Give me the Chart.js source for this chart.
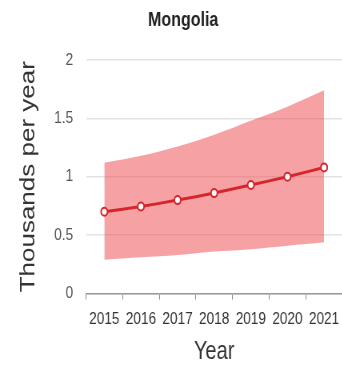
<!DOCTYPE html>
<html>
<head>
<meta charset="utf-8">
<script src="https://cdn.jsdelivr.net/npm/chart.js@4/dist/chart.umd.min.js"></script>
<style>
  html, body { margin: 0; padding: 0; background: #fff; }
  #wrap { width: 342px; height: 365px; overflow: hidden; }
  /* the chart is drawn wide and squeezed sideways to get the narrow lettering */
  #chart { transform: scaleX(0.8); transform-origin: 0 0; }
</style>
</head>
<body>
<div id="wrap"><canvas id="chart" width="428" height="365"></canvas></div>
<script>
// Mongolia, thousands per year, with uncertainty band
const years = ['2015', '2016', '2017', '2018', '2019', '2020', '2021'];
const estimate = [0.70, 0.745, 0.80, 0.86, 0.93, 1.00, 1.08];
const upperBound = [1.12, 1.18, 1.26, 1.36, 1.48, 1.60, 1.74];
const lowerBound = [0.29, 0.31, 0.33, 0.36, 0.38, 0.41, 0.44];

const lineColor = '#d4262c';
const bandColor = 'rgba(239, 83, 90, 0.55)';
const fontFamily = '"Liberation Sans", Arial, sans-serif';

const ctx = document.getElementById('chart').getContext('2d');
new Chart(ctx, {
    type: 'line',
    data: {
        labels: years,
        datasets: [
            {
                label: 'Estimate',
                data: estimate,
                borderColor: lineColor,
                borderWidth: 3,
                pointRadius: 4,
                pointBorderWidth: 2,
                pointBackgroundColor: '#fff',
                pointBorderColor: lineColor,
                tension: 0.2,
                fill: false,
                order: 0
            },
            {
                label: 'Upper',
                data: upperBound,
                borderWidth: 0,
                pointRadius: 0,
                backgroundColor: bandColor,
                tension: 0.35,
                fill: '+1',
                order: 1
            },
            {
                label: 'Lower',
                data: lowerBound,
                borderWidth: 0,
                pointRadius: 0,
                backgroundColor: bandColor,
                tension: 0.35,
                fill: false,
                order: 2
            }
        ]
    },
    options: {
        responsive: false,
        animation: false,
        devicePixelRatio: 1,
        // left padding pushes the title centre a little to the right
        layout: { autoPadding: false, padding: { left: 30, right: 0, top: 0, bottom: 0 } },
        plugins: {
            legend: { display: false },
            tooltip: { enabled: false },
            title: {
                display: true,
                text: 'Mongolia',
                color: '#222',
                font: { family: fontFamily, size: 20, weight: 'bold', lineHeight: 1.2 },
                padding: { top: 8, bottom: 28 }
            }
        },
        scales: {
            x: {
                type: 'category',
                offset: true,
                grid: {
                    offset: true,
                    drawOnChartArea: false,
                    drawTicks: true,
                    tickLength: 6,
                    color: '#888'
                },
                border: { display: true, color: '#999', width: 1.5 },
                ticks: {
                    color: '#333',
                    padding: 10,
                    maxRotation: 0,
                    autoSkip: false,
                    font: { family: fontFamily, size: 17, lineHeight: 1.2 }
                },
                title: {
                    display: true,
                    text: 'Year',
                    color: '#333',
                    padding: { top: 0, bottom: 0 },
                    font: { family: fontFamily, size: 25, lineHeight: 1 }
                },
                afterFit: scale => {
                    scale.height = 71.5;
                    scale.paddingLeft = 0;
                    scale.paddingRight = 0;
                }
            },
            y: {
                min: 0,
                max: 2,
                ticks: {
                    stepSize: 0.5,
                    color: '#555',
                    padding: 16,
                    font: { family: fontFamily, size: 17 },
                    callback: value => String(value)
                },
                grid: {
                    drawTicks: false,
                    color: '#e2e2e2',
                    lineWidth: 1.5
                },
                border: { display: false },
                title: {
                    display: true,
                    text: 'Thousands per year',
                    color: '#333',
                    padding: { top: -7, bottom: 0 },
                    font: { family: fontFamily, size: 26, lineHeight: 1 }
                },
                afterFit: scale => { scale.width = 77.5; }
            }
        }
    }
});
</script>
</body>
</html>
